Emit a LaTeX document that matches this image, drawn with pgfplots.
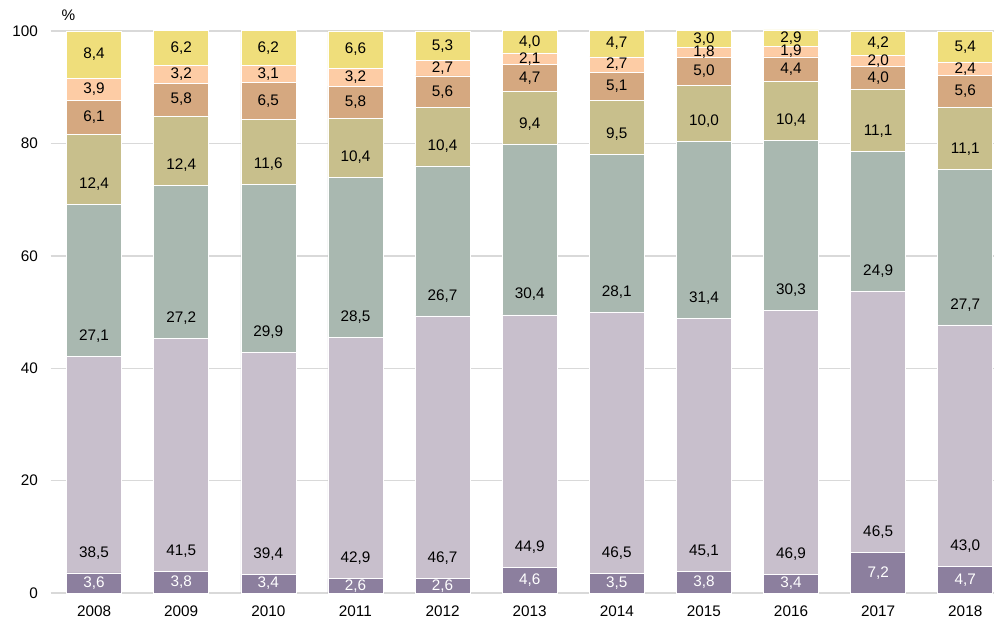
\documentclass[border=0pt]{standalone}
\usepackage{pgfplots}
\pgfplotsset{compat=1.18}
\usepackage{pgfplotstable}
\usepackage{fontspec}
\setmainfont{Liberation Sans}
\definecolor{c1}{HTML}{8C7F9E}
\definecolor{c2}{HTML}{C8BFCC}
\definecolor{c3}{HTML}{A9B8B0}
\definecolor{c4}{HTML}{C8BF8C}
\definecolor{c5}{HTML}{D5A880}
\definecolor{c6}{HTML}{FDCCA5}
\definecolor{c7}{HTML}{EFDE7B}
\definecolor{gridc}{HTML}{D9D9D9}
\pgfplotstableread{
x a b c d e f g
0 3.6 38.5 27.1 12.4 6.1 3.9 8.4
1 3.8 41.5 27.2 12.4 5.8 3.2 6.2
2 3.4 39.4 29.9 11.6 6.5 3.1 6.2
3 2.6 42.9 28.5 10.4 5.8 3.2 6.6
4 2.6 46.7 26.7 10.4 5.6 2.7 5.3
5 4.6 44.9 30.4 9.4 4.7 2.1 4.0
6 3.5 46.5 28.1 9.5 5.1 2.7 4.7
7 3.8 45.1 31.4 10.0 5.0 1.8 3.0
8 3.4 46.9 30.3 10.4 4.4 1.9 2.9
9 7.2 46.5 24.9 11.1 4.0 2.0 4.2
10 4.7 43.0 27.7 11.1 5.6 2.4 5.4
}\data
\newcommand{\fs}{\fontsize{15.3}{18}\selectfont}
\newcommand{\lbl}{\pgfmathprintnumber[fixed,fixed zerofill,precision=1,use comma,assume math mode=true]{\pgfplotspointmeta}}
\pgfplotsset{
 lblbase/.style={nodes near coords=\lbl, point meta=explicit,
   visualization depends on={\thisrow{#1}\as\val},
   every node near coord/.style={anchor=center, font=\fs, text=black,
     shift={(axis direction cs:0,{min(\val/2,3.6)-\val/2})}}},
 lblctr/.style 2 args={nodes near coords=\lbl, point meta=explicit,
   every node near coord/.style={anchor=center, font=\fs, text=#2}},
}
\begin{document}
\begin{tikzpicture}
\begin{axis}[
 scale only axis, width=943.3pt, height=562pt,
 ybar stacked, bar width=55pt,
 xmin=-0.5, xmax=10.33, ymin=0, ymax=100,
 xtick={0,...,10},
 xticklabels={2008,2009,2010,2011,2012,2013,2014,2015,2016,2017,2018},
 ytick={0,20,...,100},
 axis line style={draw=none},
 major tick length=0pt,
 ymajorgrids, grid style={gridc, line width=1.5pt},
 tick label style={font=\fs, text=black},
 xticklabel style={yshift=-9pt},
 yticklabel style={xshift=-9pt},
 /pgf/number format/assume math mode=true,
 every axis plot/.append style={draw=white, line width=0.6pt},
 clip=false,
]
\addplot[fill=c1, lblctr={a}{white}] table[x=x,y=a,meta=a]{\data};
\addplot[fill=c2, lblbase=b] table[x=x,y=b,meta=b]{\data};
\addplot[fill=c3, lblbase=c] table[x=x,y=c,meta=c]{\data};
\addplot[fill=c4, lblbase=d] table[x=x,y=d,meta=d]{\data};
\addplot[fill=c5, lblctr={e}{black}] table[x=x,y=e,meta=e]{\data};
\addplot[fill=c6, lblctr={f}{black}] table[x=x,y=f,meta=f]{\data};
\addplot[fill=c7, lblctr={g}{black}] table[x=x,y=g,meta=g]{\data};
\node[font=\fs, text=black] at (rel axis cs:0,1) [xshift=18pt,yshift=16pt] {\%};
\end{axis}
\pgfresetboundingbox
\path[use as bounding box] ([xshift=-50.5pt,yshift=-27pt]current axis.south west) rectangle ([yshift=31pt]current axis.north east);
\end{tikzpicture}
\end{document}
